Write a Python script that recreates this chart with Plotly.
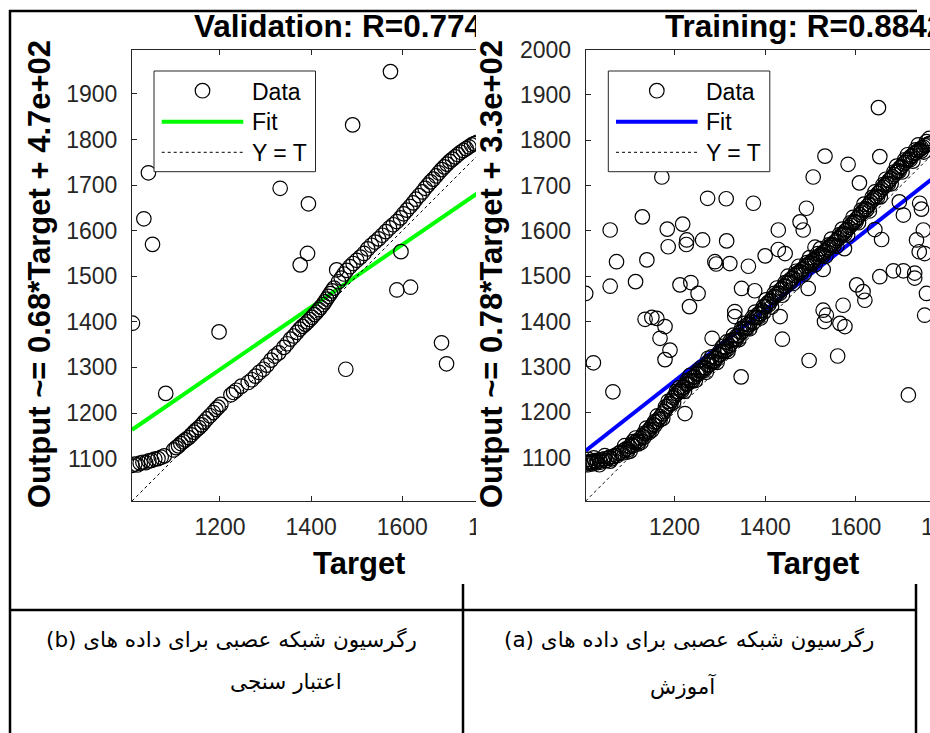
import plotly.graph_objects as go

W, H = 930, 733

# ---------------- panel (b): validation set ----------------
val_outlier_target = [1574, 1491, 1043, 1332, 1394, 1033, 1052, 1392, 1376, 1597, 1588, 1618,
                      1008, 1198, 1081, 1476, 1686, 1697]
val_outlier_output = [1949, 1832, 1727, 1693, 1659, 1626, 1570, 1550, 1525, 1554, 1470, 1476,
                      1397, 1378, 1243, 1296, 1354, 1308]

val_band_target = [1007, 1013, 1019, 1025, 1031, 1037, 1044, 1050, 1057, 1064, 1071, 1078,
                   1098, 1104, 1109, 1114, 1119, 1124, 1131, 1137, 1143, 1148, 1154, 1160,
                   1165, 1171, 1178, 1185, 1191, 1196, 1202, 1224, 1230, 1236, 1247, 1262,
                   1270, 1278, 1286, 1295, 1303, 1312, 1320, 1329, 1340, 1347, 1355, 1362,
                   1369, 1375, 1381, 1387, 1392, 1397, 1402, 1407, 1412, 1417, 1421, 1426,
                   1430, 1434, 1438, 1442, 1446, 1450, 1456, 1460, 1466, 1472, 1478, 1485,
                   1492, 1500, 1508, 1516, 1524, 1532, 1540, 1548, 1556, 1564, 1572, 1580,
                   1588, 1596, 1603, 1610, 1617, 1624, 1630, 1637, 1644, 1650, 1656, 1662,
                   1668, 1674, 1680, 1686, 1692, 1698, 1704, 1710, 1716, 1722, 1728, 1734,
                   1740, 1746, 1752, 1758, 1764]
val_band_output = [1085, 1088, 1086, 1090, 1092, 1091, 1095, 1096, 1099, 1100, 1103, 1106,
                   1119, 1124, 1128, 1133, 1137, 1141, 1146, 1152, 1158, 1163, 1168, 1174,
                   1180, 1187, 1194, 1201, 1208, 1213, 1219, 1240, 1245, 1250, 1259, 1267,
                   1273, 1281, 1289, 1296, 1305, 1316, 1325, 1332, 1344, 1352, 1362, 1369,
                   1377, 1384, 1390, 1395, 1400, 1405, 1410, 1416, 1421, 1427, 1432, 1438,
                   1444, 1450, 1456, 1462, 1468, 1474, 1514, 1488, 1496, 1505, 1513, 1521,
                   1528, 1535, 1542, 1550, 1560, 1568, 1575, 1582, 1590, 1598, 1606, 1613,
                   1620, 1628, 1637, 1645, 1653, 1661, 1669, 1677, 1685, 1693, 1700, 1707,
                   1713, 1720, 1727, 1734, 1740, 1746, 1752, 1757, 1762, 1767, 1772, 1776,
                   1780, 1784, 1788, 1791, 1794]

val_fit = (0.6845, 474.0)          # Output ~= 0.68*Target + 4.7e+02
val_limits = (1007, 1997)
val_title = "Validation: R=0.774"
val_ylabel = "Output ~= 0.68*Target + 4.7e+02"

# ---------------- panel (a): training set ----------------
trn_outlier_target = [1650, 1532, 1583, 1653, 1506, 1608, 1172, 1273, 1314, 1374, 1129, 1058,
                      1184, 1218, 1186, 1227, 1226, 1262, 1315, 1429, 1477, 1484, 1491, 1072,
                      1139, 1289, 1292, 1322, 1363, 1400, 1429, 1444, 1510, 1575, 1642, 1657,
                      1696, 1705, 1741, 1745, 1749, 1734, 1740, 1752, 1683, 1705, 1730, 1730,
                      1653, 1528, 1495, 1602, 1616, 1058, 1114, 1212, 1236, 1252, 1348, 1377,
                      1004, 1756, 1233, 1135, 1150, 1161, 1179, 1168, 1190, 1179, 1021, 1064,
                      1223, 1283, 1274, 1315, 1333, 1333, 1347, 1433, 1438, 1497, 1528, 1535,
                      1531, 1565, 1576, 1572, 1560, 1620, 1716, 1752]
trn_outlier_output = [1872, 1765, 1747, 1764, 1719, 1706, 1719, 1672, 1671, 1661, 1631, 1602,
                      1604, 1615, 1565, 1580, 1570, 1580, 1578, 1602, 1620, 1602, 1650, 1532,
                      1536, 1532, 1527, 1528, 1522, 1545, 1559, 1550, 1564, 1561, 1603, 1581,
                      1664, 1635, 1661, 1648, 1602, 1580, 1554, 1550, 1512, 1512, 1507, 1496,
                      1499, 1515, 1473, 1481, 1466, 1478, 1488, 1481, 1486, 1462, 1473, 1468,
                      1462, 1462, 1433, 1405, 1409, 1407, 1389, 1363, 1337, 1316, 1309, 1245,
                      1197, 1363, 1319, 1355, 1422, 1411, 1278, 1411, 1361, 1314, 1425, 1414,
                      1400, 1396, 1389, 1436, 1324, 1447, 1238, 1414]

trn_band_target = [1004, 1006, 1009, 1012, 1015, 1018, 1021, 1024, 1027, 1030, 1034, 1037,
                   1041, 1045, 1049, 1053, 1057, 1061, 1065, 1069, 1073, 1077, 1081, 1085,
                   1089, 1093, 1097, 1101, 1105, 1109, 1113, 1117, 1121, 1125, 1129, 1133,
                   1137, 1141, 1145, 1149, 1153, 1157, 1161, 1165, 1169, 1173, 1177, 1181,
                   1185, 1189, 1193, 1197, 1201, 1205, 1209, 1213, 1217, 1221, 1225, 1229,
                   1233, 1237, 1241, 1245, 1249, 1253, 1257, 1261, 1265, 1269, 1273, 1277,
                   1281, 1285, 1289, 1293, 1297, 1301, 1305, 1309, 1313, 1317, 1321, 1325,
                   1329, 1333, 1337, 1341, 1345, 1349, 1353, 1357, 1361, 1365, 1369, 1373,
                   1377, 1381, 1385, 1389, 1393, 1397, 1401, 1405, 1409, 1413, 1417, 1421,
                   1425, 1429, 1433, 1437, 1441, 1445, 1449, 1453, 1457, 1461, 1465, 1469,
                   1473, 1477, 1481, 1485, 1489, 1493, 1497, 1501, 1505, 1509, 1513, 1517,
                   1521, 1525, 1529, 1533, 1537, 1541, 1545, 1549, 1553, 1557, 1561, 1565,
                   1569, 1573, 1577, 1581, 1585, 1589, 1593, 1597, 1601, 1605, 1609, 1613,
                   1617, 1621, 1625, 1629, 1633, 1637, 1641, 1645, 1649, 1653, 1657, 1661,
                   1665, 1669, 1673, 1677, 1681, 1685, 1689, 1693, 1697, 1701, 1705, 1709,
                   1713, 1717, 1721, 1725, 1729, 1733, 1737, 1741, 1745, 1749, 1753, 1757,
                   1761, 1765]
trn_band_output = [1086, 1090, 1084, 1088, 1091, 1086, 1089, 1093, 1088, 1091, 1095, 1090,
                   1094, 1097, 1093, 1098, 1101, 1097, 1102, 1105, 1104, 1109, 1112, 1110,
                   1116, 1119, 1117, 1124, 1128, 1126, 1133, 1137, 1135, 1142, 1147, 1145,
                   1153, 1158, 1162, 1168, 1173, 1171, 1179, 1185, 1190, 1196, 1201, 1207,
                   1213, 1219, 1226, 1232, 1236, 1241, 1245, 1249, 1254, 1255, 1262, 1263,
                   1270, 1269, 1277, 1278, 1284, 1285, 1291, 1292, 1298, 1297, 1304, 1305,
                   1311, 1312, 1319, 1319, 1327, 1327, 1335, 1335, 1343, 1339, 1347, 1352,
                   1360, 1360, 1368, 1369, 1377, 1377, 1385, 1385, 1393, 1393, 1401, 1397,
                   1409, 1409, 1417, 1417, 1425, 1421, 1433, 1440, 1444, 1446, 1453, 1455,
                   1460, 1463, 1469, 1472, 1478, 1478, 1486, 1490, 1494, 1496, 1502, 1505,
                   1508, 1510, 1515, 1517, 1522, 1524, 1528, 1530, 1535, 1537, 1541, 1543,
                   1547, 1549, 1553, 1556, 1560, 1563, 1568, 1570, 1575, 1578, 1583, 1586,
                   1591, 1595, 1600, 1603, 1608, 1612, 1617, 1621, 1626, 1630, 1636, 1640,
                   1645, 1649, 1654, 1658, 1664, 1668, 1673, 1677, 1683, 1687, 1692, 1696,
                   1701, 1705, 1711, 1715, 1720, 1724, 1730, 1733, 1739, 1742, 1748, 1751,
                   1756, 1759, 1764, 1766, 1771, 1773, 1777, 1779, 1783, 1785, 1788, 1790,
                   1792, 1794]
# further rows of the dense training band, interleaved with the first
trn_band2_target = [1010, 1022, 1034, 1046, 1058, 1090, 1102, 1114, 1126, 1138, 1150, 1162,
                    1174, 1186, 1198, 1210, 1222, 1234, 1246, 1258, 1270, 1282, 1294, 1306,
                    1318, 1330, 1342, 1354, 1366, 1378, 1390, 1402, 1414, 1426, 1438, 1450,
                    1462, 1474, 1486, 1498, 1510, 1522, 1534, 1546, 1558, 1570, 1582, 1594,
                    1606, 1618, 1630, 1642, 1654, 1666, 1678, 1690, 1702, 1714, 1726, 1738,
                    1750, 1762]
trn_band2_output = [1096, 1099, 1084, 1104, 1092, 1126, 1114, 1143, 1133, 1165, 1160, 1192,
                    1186, 1224, 1222, 1254, 1246, 1281, 1270, 1298, 1288, 1322, 1310, 1345,
                    1334, 1370, 1360, 1396, 1384, 1421, 1408, 1448, 1432, 1474, 1458, 1500,
                    1484, 1522, 1505, 1541, 1525, 1561, 1544, 1582, 1566, 1604, 1591, 1630,
                    1618, 1659, 1644, 1686, 1675, 1714, 1704, 1743, 1730, 1768, 1754, 1790,
                    1774, 1804]
trn_band3_target = [1096, 1108, 1120, 1132, 1144, 1156, 1168, 1180, 1192, 1204, 1216, 1228,
                    1240, 1252, 1264, 1276, 1288, 1300, 1312, 1324, 1336, 1348, 1360, 1372,
                    1384, 1396, 1408, 1420, 1432, 1444, 1456, 1468, 1480, 1492, 1504, 1516,
                    1528, 1540, 1552, 1564, 1576, 1588, 1600, 1612, 1624, 1636, 1648, 1660,
                    1672, 1684, 1696, 1708, 1720, 1732, 1744, 1756]
trn_band3_output = [1112, 1135, 1130, 1153, 1155, 1179, 1183, 1212, 1218, 1246, 1247, 1270,
                    1269, 1292, 1291, 1312, 1312, 1334, 1335, 1358, 1360, 1385, 1385, 1409,
                    1409, 1433, 1437, 1462, 1462, 1486, 1487, 1511, 1508, 1530, 1528, 1550,
                    1546, 1569, 1568, 1592, 1593, 1618, 1619, 1646, 1647, 1674, 1675, 1702,
                    1704, 1730, 1732, 1757, 1757, 1779, 1776, 1797]

trn_fit = (0.7849, 327.0)          # Output ~= 0.78*Target + 3.3e+02
trn_limits = (1004, 2000.3)
trn_title = "Training: R=0.8842"
trn_ylabel = "Output ~= 0.78*Target + 3.3e+02"

x_ticks = [1200, 1400, 1600, 1800]
y_ticks = [1100, 1200, 1300, 1400, 1500, 1600, 1700, 1800, 1900, 2000]

# table captions
caption_a = ["(a) رگرسیون شبکه عصبی برای داده های", "آموزش"]
caption_b = ["(b) رگرسیون شبکه عصبی برای داده های", "اعتبار سنجی"]

# ---------------- page geometry (pixels) ----------------
def PX(x):
    return x / W


def PY(y):
    return 1 - y / H


LATIN = "Liberation Sans, Arial, Helvetica, sans-serif"
AX_COLOR = "#262626"

# left panel axes box
L_X0, L_Y0, L_Y1 = 132.0, 49.7, 501.0
L_SCALE = (L_Y1 - L_Y0) / (val_limits[1] - val_limits[0])
L_X1 = L_X0 + (val_limits[1] - val_limits[0]) * L_SCALE
# right panel axes box (runs past the page edge)
R_X0, R_Y0, R_Y1 = 585.7, 49.5, 501.0
R_SCALE = (R_Y1 - R_Y0) / (trn_limits[1] - trn_limits[0])
R_XEND = trn_limits[0] + (W - R_X0) / R_SCALE
# strip where the right picture sits over the left one
CUT_X0, CUT_X1, CUT_Y0, CUT_Y1 = 476.0, 585.2, 13.0, 584.0
# strip holding the left panel title (clipped at the same edge)
TT_X0, TT_X1, TT_Y0, TT_Y1 = 140.0, CUT_X0, 13.0, 48.0

fig = go.Figure()

marker_style = dict(symbol="circle-open", size=14.5, color="black",
                    line=dict(width=1.2, color="black"))


def add_panel(xa, ya, limits, fit, color, pts_t, pts_o):
    lim = list(limits)
    m, b = fit
    fig.add_trace(go.Scatter(x=lim, y=[m * v + b for v in lim], mode="lines",
                             line=dict(color=color, width=4), xaxis=xa, yaxis=ya,
                             showlegend=False, hoverinfo="skip"))
    fig.add_trace(go.Scatter(x=lim, y=lim, mode="lines",
                             line=dict(color="black", width=1, dash="dot"),
                             xaxis=xa, yaxis=ya, showlegend=False, hoverinfo="skip"))
    fig.add_trace(go.Scatter(x=pts_t, y=pts_o, mode="markers",
                             marker=marker_style, xaxis=xa, yaxis=ya, showlegend=False))


add_panel("x", "y", val_limits, val_fit, "#00ff00",
          val_band_target + val_outlier_target, val_band_output + val_outlier_output)

# empty subplot whose white background hides the clipped strip
fig.add_trace(go.Scatter(x=[None], y=[None], xaxis="x2", yaxis="y2",
                         showlegend=False, hoverinfo="skip"))

add_panel("x3", "y3", trn_limits, trn_fit, "#0000ff",
          trn_band_target + trn_band2_target + trn_band3_target + trn_outlier_target,
          trn_band_output + trn_band2_output + trn_band3_output + trn_outlier_output)

# left panel title, clipped where the right picture begins
TITLE_FS = 31.5
title_baseline = 36.7
fig.add_trace(go.Scatter(
    x=[(194.0 - TT_X0) / (TT_X1 - TT_X0)],
    y=[(TT_Y1 - (title_baseline - 0.25 * TITLE_FS)) / (TT_Y1 - TT_Y0)],
    mode="text", text=[val_title], textposition="middle right",
    textfont=dict(family=LATIN, size=TITLE_FS, color="black", weight="bold"),
    cliponaxis=True, xaxis="x4", yaxis="y4", showlegend=False, hoverinfo="skip"))

axis_common = dict(showline=True, linecolor=AX_COLOR, linewidth=1, ticks="inside",
                   ticklen=5, tickwidth=1, tickcolor=AX_COLOR, showgrid=False,
                   zeroline=False, automargin=False,
                   tickfont=dict(family=LATIN, size=23, color=AX_COLOR))
hidden_axis = dict(range=[0, 1], visible=False, automargin=False, fixedrange=True)

fig.update_layout(
    width=W, height=H, autosize=False,
    margin=dict(l=0, r=0, t=0, b=0, pad=0, autoexpand=False),
    paper_bgcolor="white", plot_bgcolor="white",
    showlegend=False,
    xaxis=dict(domain=[PX(L_X0), PX(L_X1)], range=list(val_limits), anchor="y",
               mirror="ticks", tickvals=x_ticks, ticklabelstandoff=5, **axis_common),
    yaxis=dict(domain=[PY(L_Y1), PY(L_Y0)], range=list(val_limits), anchor="x",
               mirror=False, tickvals=y_ticks, ticklabelstandoff=9, **axis_common),
    xaxis2=dict(domain=[PX(CUT_X0), PX(CUT_X1)], anchor="y2", **hidden_axis),
    yaxis2=dict(domain=[PY(CUT_Y1), PY(CUT_Y0)], anchor="x2", **hidden_axis),
    xaxis3=dict(domain=[PX(R_X0), 1.0], range=[trn_limits[0], R_XEND], anchor="y3",
                mirror="ticks", tickvals=x_ticks, ticklabelstandoff=5, **axis_common),
    yaxis3=dict(domain=[PY(R_Y1), PY(R_Y0)], range=list(trn_limits), anchor="x3",
                mirror=False, tickvals=y_ticks, ticklabelstandoff=9, **axis_common),
    xaxis4=dict(domain=[PX(TT_X0), PX(TT_X1)], anchor="y4", **hidden_axis),
    yaxis4=dict(domain=[PY(TT_Y1), PY(TT_Y0)], anchor="x4", **hidden_axis),
)

ann = []
bold = dict(family=LATIN, size=TITLE_FS, color="black", weight="bold")
label_bold = dict(family=LATIN, size=31, color="black", weight="bold")
# titles and axis labels
ann.append(dict(x=PX(663.3), y=PY(26.0), text=trn_title, xanchor="left", yanchor="middle",
                font=bold))
ann.append(dict(x=PX(39.0), y=PY(274.0), text=val_ylabel, textangle=-90, font=label_bold,
                xanchor="center", yanchor="middle"))
ann.append(dict(x=PX(491.0), y=PY(274.0), text=trn_ylabel, textangle=-90, font=label_bold,
                xanchor="center", yanchor="middle"))
ann.append(dict(x=PX(359.0), y=PY(563.0), text="Target", font=label_bold,
                xanchor="center", yanchor="middle"))
ann.append(dict(x=PX(812.5), y=PY(563.0), text="Target", font=label_bold,
                xanchor="center", yanchor="middle"))
# tick label of the right panel that runs off the page
ann.append(dict(x=PX(R_X0 + (x_ticks[-1] - trn_limits[0]) * R_SCALE), y=PY(526.5),
                text=str(x_ticks[-1]), xanchor="center", yanchor="middle",
                font=dict(family=LATIN, size=23, color=AX_COLOR)))

shapes = []
# legends
for lx, fit_color in ((154.0, "#00ff00"), (608.3, "#0000ff")):
    shapes.append(dict(type="rect", x0=PX(lx), x1=PX(lx + 161.5), y0=PY(171.7), y1=PY(71.0),
                       line=dict(color=AX_COLOR, width=1), fillcolor="white", layer="above"))
    cx = lx + 48.5
    shapes.append(dict(type="circle", x0=PX(cx - 7.3), x1=PX(cx + 7.3),
                       y0=PY(90.7 + 7.3), y1=PY(90.7 - 7.3),
                       line=dict(color="black", width=1.2), layer="above"))
    shapes.append(dict(type="line", x0=PX(lx + 7.7), x1=PX(lx + 89.3), y0=PY(121.7), y1=PY(121.7),
                       line=dict(color=fit_color, width=4), layer="above"))
    shapes.append(dict(type="line", x0=PX(lx + 7.7), x1=PX(lx + 89.3), y0=PY(152.3), y1=PY(152.3),
                       line=dict(color="black", width=1, dash="dot"), layer="above"))
    for txt, ty in (("Data", 92.0), ("Fit", 122.0), ("Y = T", 152.5)):
        ann.append(dict(x=PX(lx + 96.0), y=PY(ty), text=txt, xanchor="left", yanchor="middle",
                        font=dict(family=LATIN, size=23, color="black")))

# table rules
rule = dict(color="black", width=2.5)
for x0, y0, x1, y1 in ((9, 11, 917, 11), (10, 10, 10, 733), (463, 584, 463, 733),
                       (916, 584, 916, 733), (10, 610, 916, 610)):
    shapes.append(dict(type="line", x0=PX(x0), x1=PX(x1), y0=PY(y0), y1=PY(y1),
                       line=rule, layer="above"))

# captions (Persian)
cap_font = dict(family="DejaVu Sans, Noto Sans, sans-serif", size=21.5, color="black")
for text, cx, cy in ((caption_a[0], 689.0, 639.0), (caption_a[1], 682.7, 686.0),
                     (caption_b[0], 231.5, 639.0), (caption_b[1], 286.0, 681.0)):
    ann.append(dict(x=PX(cx), y=PY(cy), text=text, font=cap_font,
                    xanchor="center", yanchor="middle"))

for a in ann:
    a.setdefault("xref", "paper")
    a.setdefault("yref", "paper")
    a.setdefault("showarrow", False)
for s in shapes:
    s.setdefault("xref", "paper")
    s.setdefault("yref", "paper")

fig.update_layout(annotations=ann, shapes=shapes)

fig.write_html("out.html")
